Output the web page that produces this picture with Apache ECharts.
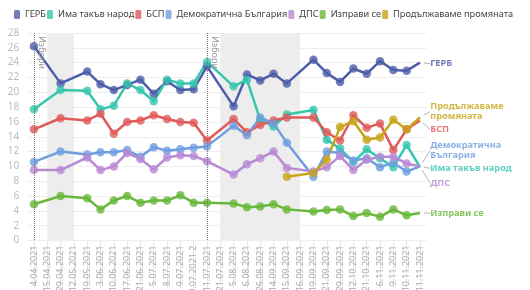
<!DOCTYPE html>
<html>
<head>
<meta charset="utf-8">
<script src="https://cdn.jsdelivr.net/npm/echarts@6/dist/echarts.min.js"></script>
<style>
  html, body { margin: 0; padding: 0; background: #fff; }
  #chart { width: 530px; height: 290px; }
</style>
</head>
<body>
<div id="chart"></div>
<script>
const dates = ['4.04.2021', '15.04.2021', '29.04.2021', '12.05.2021', '19.05.2021', '3.06.2021', '10.06.2021',
  '17.06.2021', '21.06.2021', '5.07.2021', '8.07.2021', '9.07.2021', '9.07.2021 2', '11.07.2021', '21.07.2021',
  '5.08.2021', '6.08.2021', '26.08.2021', '14.09.2021', '15.09.2021', '16.09.2021', '19.09.2021', '21.09.2021',
  '29.09.2021', '12.10.2021', '21.10.2021', '6.11.2021', '9.11.2021', '10.11.2021', '11.11.2021'];

const gerb = [26.2, null, 21.2, null, 22.8, 21.1, 20.3, 21.0, 21.7, 19.8, 21.5, 20.3, 20.4, 23.5, null,
  18.1, 22.4, 21.6, 22.5, 21.2, null, 24.4, 22.6, 21.4, 23.2, 22.5, 24.2, 23.0, 22.9, 24.0];
const itn = [17.7, null, 20.3, null, 20.2, 17.7, 18.2, 21.2, 20.3, 18.8, 21.7, 21.2, 21.2, 24.1, null,
  20.8, 21.7, 16.3, 15.4, 17.0, null, 17.6, 13.6, 12.4, 10.6, 12.3, 11.1, 9.9, 12.9, 9.9];
const bsp = [15.0, null, 16.5, null, 16.2, 17.1, 14.4, 16.0, 16.2, 16.9, 16.4, 16.0, 15.9, 13.5, null,
  16.4, 14.6, 15.6, 16.2, 16.6, null, 16.6, 14.6, 13.5, 16.9, 15.2, 15.8, 12.2, 15.0, 16.2];
const db = [10.6, null, 12.0, null, 11.6, 11.9, 11.9, 12.2, 11.3, 12.6, 12.1, 12.3, 12.5, 12.7, null,
  15.5, 14.2, 16.6, 15.8, 13.2, null, 8.6, 12.0, 11.8, 10.8, 11.1, 9.9, 10.5, 9.3, 10.0];
const dps = [9.5, null, 9.5, null, 11.2, 9.5, 10.0, 11.8, 11.0, 9.6, 11.2, 11.5, 11.4, 10.7, null,
  8.9, 10.3, 11.1, 12.0, 9.8, null, 9.3, 9.9, 11.4, 9.5, 10.9, 11.3, 11.3, 10.4, 10.0];
const izpravi = [4.9, null, 6.0, null, 5.7, 4.2, 5.4, 6.0, 5.1, 5.4, 5.4, 6.1, 5.1, 5.1, null,
  5.0, 4.5, 4.6, 4.9, 4.2, null, 3.9, 4.1, 4.2, 3.3, 3.7, 3.2, 4.2, 3.4, 3.7];
const pp = [null, null, null, null, null, null, null, null, null, null, null, null, null, null, null,
  null, null, null, null, 8.6, null, 9.1, 10.9, 15.3, 16.1, 13.6, 13.9, 16.3, 15.0, 16.6];

// периоди в сиво и дати на избори
const greyPeriods = [['15.04.2021', '12.05.2021'], ['21.07.2021', '16.09.2021']];
const elections = ['4.04.2021', '11.07.2021'];

const font = 'Noto Sans';
const chart = echarts.init(document.getElementById('chart'));

// етикет в края на всяка линия, dy - отместване по вертикала
const makeSeries = (name, endText, data, color, dy) => {
  const last = data.length - 1;
  return {
    name: name,
    type: 'line',
    connectNulls: true,
    symbol: 'circle',
    symbolSize: 8.5,
    color: color,
    lineStyle: { width: 2.5, color: color },
    itemStyle: { color: color, opacity: 0.8 },
    label: {
      show: false,
      position: 'right',
      distance: 6,
      formatter: endText,
      color: color,
      fontFamily: font,
      fontWeight: 'bold',
      fontSize: 9.2,
      lineHeight: 10
    },
    labelLine: { show: true, lineStyle: { color: '#b5b5b5', width: 1 } },
    labelLayout: { dy: dy },
    emphasis: { disabled: true },
    data: data.map((v, i) => i === last
      ? { value: v, itemStyle: { color: 'rgba(0,0,0,0)' }, label: { show: true } }
      : v)
  };
};

const series = [
  makeSeries('ГЕРБ', 'ГЕРБ', gerb, '#4c5ca8', 1),
  makeSeries('Има такъв народ', 'Има такъв народ', itn, '#35c7ae', 1),
  makeSeries('БСП', 'БСП', bsp, '#e05a5a', 9),
  makeSeries('Демократична България', 'Демократична\nБългария', db, '#6f9ee0', -16),
  makeSeries('ДПС', 'ДПС', dps, '#b98ad4', 17),
  makeSeries('Изправи се', 'Изправи се', izpravi, '#68b83a', 0),
  makeSeries('Продължаваме промяната', 'Продължаваме\nпромяната', pp, '#c9a418', -6)
];

series[0].markArea = {
  silent: true,
  itemStyle: { color: '#ededed' },
  data: greyPeriods.map(p => [{ xAxis: p[0] }, { xAxis: p[1] }])
};
series[0].markLine = {
  silent: true,
  symbol: 'none',
  lineStyle: { color: '#777', type: 'dotted', width: 1 },
  label: {
    show: true,
    formatter: 'Избори',
    position: 'insideStartTop',
    color: '#999',
    fontFamily: font,
    fontSize: 9,
    distance: 3
  },
  data: elections.map(d => [{ xAxis: d, yAxis: 28 }, { xAxis: d, yAxis: 0 }])
};

chart.setOption({
  animation: false,
  textStyle: { fontFamily: font },
  legend: {
    top: 5,
    left: 9,
    width: 521,
    icon: 'roundRect',
    itemWidth: 6,
    itemHeight: 9,
    itemGap: 1,
    textStyle: { fontSize: 9.2, color: '#444', fontFamily: font },
    data: series.map(s => s.name)
  },
  grid: { left: 27.3, right: 103.4, top: 33, bottom: 49.5, outerBoundsMode: 'none' },
  xAxis: {
    type: 'category',
    data: dates,
    boundaryGap: true,
    axisLine: { show: false },
    axisTick: { show: true, alignWithLabel: true, interval: 0, length: 48, lineStyle: { color: '#e6e6e6' } },
    axisLabel: {
      interval: 0,
      rotate: 90,
      fontSize: 9,
      color: '#aaa',
      margin: 5,
      padding: [13, 0, 0, 0]
    }
  },
  yAxis: {
    type: 'value',
    min: 0,
    max: 28,
    interval: 2,
    axisLabel: { fontSize: 10, color: '#bbb', margin: 8 },
    splitLine: { lineStyle: { color: '#eeeeee' } }
  },
  series: series
});
</script>
</body>
</html>
